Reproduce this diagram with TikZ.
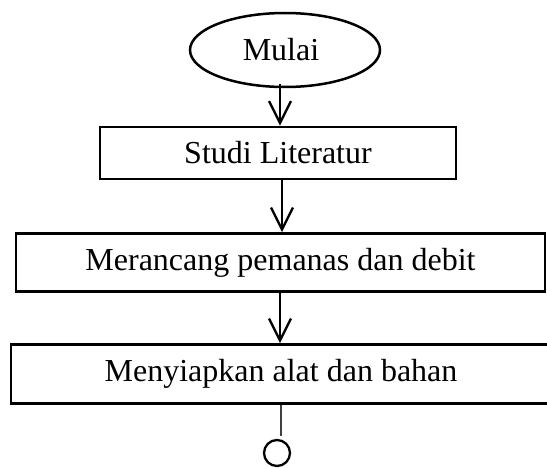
\documentclass[tikz,border=0pt]{standalone}
\usepackage{fontspec}
\setmainfont{Liberation Serif}
\usetikzlibrary{shapes.geometric,arrows.meta}
\begin{document}
\begin{tikzpicture}[x=1pt,y=-1pt,
  stepbox/.style={draw, line width=2.8pt, inner sep=0pt, font=\fontsize{32}{38}\selectfont},
  startnode/.style={draw, ellipse, line width=2.5pt, inner sep=0pt, font=\fontsize{32}{38}\selectfont},
  flow/.style={line width=2.3pt, -{Straight Barb[length=22pt,width=22pt,line width=2.3pt]}},
  endcircle/.style={draw, circle, line width=2.3pt, minimum size=26pt, inner sep=0pt}
]
\clip (0,0) rectangle (547,468);
\useasboundingbox (0,0) rectangle (547,468);
\node[startnode, minimum width=190pt, minimum height=74pt] (mulai) at (285,50) {\hspace*{-8pt}Mulai};
\node[stepbox, minimum width=356pt, minimum height=52pt] (studi) at (278,153) {Studi Literatur};
\node[stepbox, minimum width=529pt, minimum height=58pt] (rancang) at (280.5,262.5) {Merancang pemanas dan debit};
\node[stepbox, minimum width=540pt, minimum height=59pt] (siap) at (281,374) {Menyiapkan alat dan bahan};
\node[endcircle] (akhir) at (277,453) {};
\coordinate (ujung) at (281,436);
\coordinate (a1) at (280,84);
\draw[flow] (a1) -- (a1 |- studi.north);
\draw[flow] (studi.south -| 282,0) -- (rancang.north -| 282,0);
\draw[flow] (rancang.south -| 280,0) -- (siap.north -| 280,0);
\draw[line width=1.5pt, black!75] (siap.south -| ujung) -- (ujung);
\end{tikzpicture}
\end{document}
